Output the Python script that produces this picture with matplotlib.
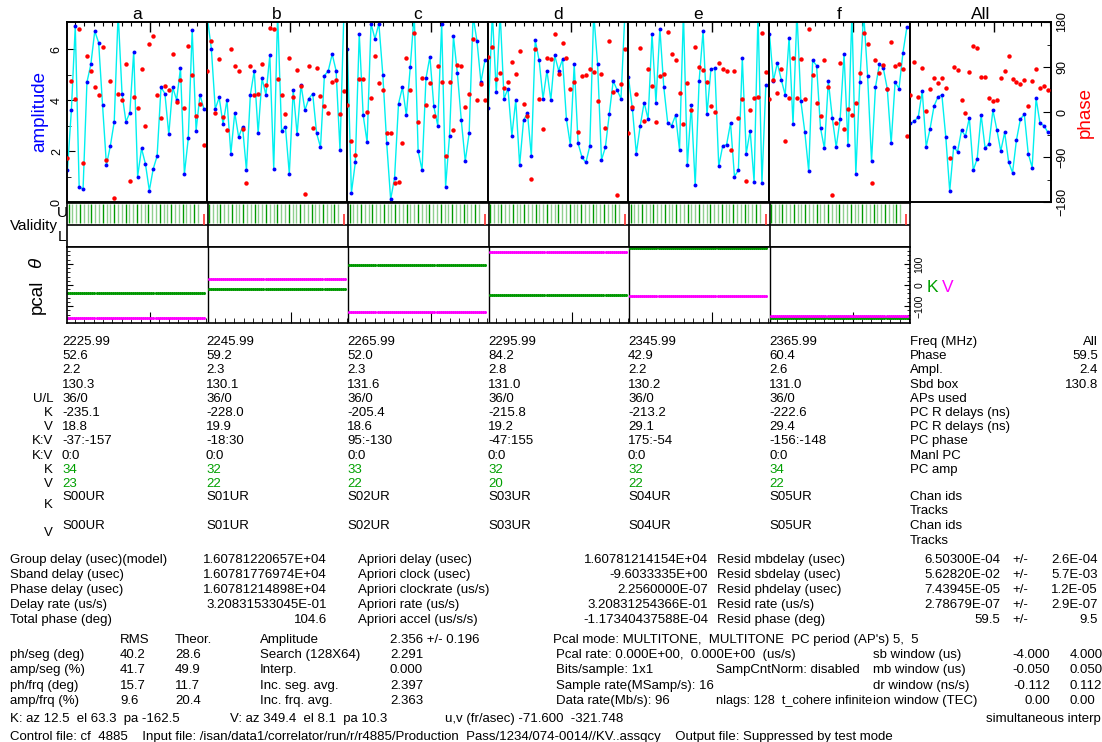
import matplotlib
matplotlib.use('Agg')
import matplotlib.pyplot as plt
import numpy as np

plt.rcParams['font.family'] = ['Liberation Sans', 'DejaVu Sans']

# ---------------- data ----------------
titles = ['a', 'b', 'c', 'd', 'e', 'f', 'All']

amp_a = [1.25, 3.6, 6.9, 0.6, 0.5, 4.7, 5.4, 6.7, 6.25, 3.8, 1.45, 2.2, 3.15, 7.4, 4.25, 3.15, 3.5, 5.9,
         1.0, 2.1, 1.5, 0.45, 1.3, 1.8, 4.5, 4.25, 2.65, 4.5, 4.0, 5.25, 1.1, 2.5, 6.75, 2.8, 4.2, 3.65]
ph_a = [-91, 62, 27, 167, -102, 112, 83, 50, 35, 130, -95, 63, -171, 36, 25, 97, -137, 30,
        9, 86, -28, 137, 153, 35, -11, 52, 44, 116, 20, 64, 9, 133, 75, -7, 16, -65]
amp_b = [7.2, 6.0, 3.65, 4.1, 3.05, 4.0, 1.9, 3.5, 2.55, 2.95, 1.25, 4.2, 5.15, 2.7, 4.85, 4.2, 5.75, 1.3,
         7.4, 2.8, 2.95, 1.1, 4.4, 2.65, 4.6, 3.6, 4.05, 4.25, 2.7, 2.15, 4.95, 5.15, 5.8, 5.15, 2.05, 7.4]
ph_b = [83, 143, -1, 107, -9, -35, 127, 93, 83, -34, -142, 93, 34, 37, 96, 55, 169, 167,
        67, 35, -4, 109, 31, 85, 53, -163, 93, -31, 89, 33, 13, -1, 60, 64, -4, 43]
amp_c = [6.0, 0.35, 1.55, 6.6, 3.4, 2.35, 7.0, 6.4, 7.0, 5.0, 2.3, 0.1, 0.95, 3.85, 4.5, 3.4, 5.3, 7.4,
         2.0, 1.25, 4.85, 5.7, 3.75, 3.0, 7.0, 0.6, 2.6, 6.5, 5.05, 3.2, 1.6, 2.7, 7.3, 6.3, 4.7, 5.55]
ph_c = [15, -58, -85, 67, 66, 0, 29, 113, 59, 44, -41, -41, -141, -140, -61, 109, 45, 159,
        -19, 69, 15, 59, -7, 92, 61, -88, 61, -35, 94, 93, 11, 37, 147, 24, 57, 24]
amp_d = [3.7, 7.4, 4.3, 7.4, 4.05, 4.45, 2.6, 4.0, 1.45, 3.2, 3.5, 1.8, 6.35, 5.55, 4.05, 5.15, 4.0, 5.75,
         5.15, 5.6, 3.25, 2.25, 5.4, 2.3, 1.75, 1.55, 2.2, 7.4, 5.4, 1.65, 2.15, 3.45, 4.75, 4.4, 4.05, 7.4]
ph_d = [111, 131, 67, 78, 49, 60, 100, 77, 123, 17, -7, -133, 126, 26, -34, 109, 107, 156,
        76, 139, 109, 47, 60, -39, 72, 74, 86, 80, 23, 76, -31, 143, 41, -165, 57, 127]
amp_e = [4.9, 3.65, 1.9, 3.0, 3.9, 3.25, 6.6, 3.9, 6.8, 4.5, 3.1, 3.0, 3.4, 2.05, 7.4, 1.45, 3.8, 0.65,
         4.75, 6.7, 3.45, 5.2, 5.25, 1.4, 2.2, 2.25, 3.1, 1.0, 1.25, 5.65, 1.9, 2.8, 0.8, 7.4, 0.75, 4.6]
ph_e = [-41, 11, 37, 129, -17, 86, 53, -19, 73, 77, 161, 117, 105, 39, -23, 59, 4, 131,
        91, 85, 61, 12, 0, 99, 87, 83, -75, 83, -11, 27, -137, 4, 29, 31, 159, 80]
amp_f = [6.6, 4.75, 5.45, 4.8, 4.2, 6.45, 3.05, 7.4, 3.95, 2.75, 1.2, 5.55, 5.35, 2.9, 2.1, 4.75, 3.3, 2.15,
         3.25, 5.8, 2.25, 7.4, 1.1, 4.7, 7.4, 4.95, 1.6, 4.5, 5.4, 5.25, 4.45, 2.3, 4.7, 4.45, 5.85, 6.85]
ph_f = [27, 65, 39, 87, -57, 29, 109, 29, 107, 27, 166, 75, 18, -7, 105, 51, -165, -21,
        99, -33, 7, -5, 19, 78, 159, 137, -142, 105, 79, 95, 47, 141, 92, 97, 86, -48]
amp_all = [3.08, 3.16, 3.35, 4.35, 2.17, 2.88, 3.76, 4.12, 4.2, 2.54, 0.43, 2.16, 1.97, 2.81, 2.59, 3.3, 1.25, 1.7,
           3.42, 2.13, 2.27, 3.6, 2.84, 2.0, 2.73, 1.58, 1.15, 2.43, 3.25, 3.44, 1.9, 1.35, 4.07, 3.08, 3.0, 2.73]
ph_all = [35, 101, 30, 88, 2, 46, 69, 59, 69, 49, -91, 91, 85, 25, -1, 81, 132, 129,
          71, 71, 29, 22, 25, 69, 82, 113, 67, 60, 56, 64, 12, 62, 86, 48, 53, 45]

pc_K = [-37, -18, 95, -47, 175, -156]
pc_V = [-157, 30, -130, 155, -54, -148]

freqs = ['2225.99', '2245.99', '2265.99', '2295.99', '2345.99', '2365.99']
ch_phase = ['52.6', '59.2', '52.0', '84.2', '42.9', '60.4']
ch_ampl = ['2.2', '2.3', '2.3', '2.8', '2.2', '2.6']
ch_sbd = ['130.3', '130.1', '131.6', '131.0', '130.2', '131.0']
ch_aps = ['36/0', '36/0', '36/0', '36/0', '36/0', '36/0']
pcr_K = ['-235.1', '-228.0', '-205.4', '-215.8', '-213.2', '-222.6']
pcr_V = ['18.8', '19.9', '18.6', '19.2', '29.1', '29.4']
pc_phase = ['-37:-157', '-18:30', '95:-130', '-47:155', '175:-54', '-156:-148']
manl_pc = ['0:0', '0:0', '0:0', '0:0', '0:0', '0:0']
pcamp_K = ['34', '32', '33', '32', '32', '34']
pcamp_V = ['23', '22', '22', '20', '22', '22']
chan_ids = ['S00UR', 'S01UR', 'S02UR', 'S03UR', 'S04UR', 'S05UR']
row_labels = ['', '', '', '', 'U/L', 'K', 'V', 'K:V', 'K:V', 'K', 'V']
right_labels = ['Freq (MHz)', 'Phase', 'Ampl.', 'Sbd box', 'APs used', 'PC R delays (ns)',
                'PC R delays (ns)', 'PC phase', 'Manl PC', 'PC amp']
right_values = ['All', '59.5', '2.4', '130.8']

blk1_lab = ['Group delay (usec)(model)', 'Sband delay (usec)', 'Phase delay (usec)', 'Delay rate (us/s)',
            'Total phase (deg)']
blk1_val = ['1.60781220657E+04', '1.60781776974E+04', '1.60781214898E+04', '3.20831533045E-01', '104.6']
blk2_lab = ['Apriori delay (usec)', 'Apriori clock (usec)', 'Apriori clockrate (us/s)', 'Apriori rate (us/s)',
            'Apriori accel (us/s/s)']
blk2_val = ['1.60781214154E+04', '-9.6033335E+00', '2.2560000E-07', '3.20831254366E-01', '-1.17340437588E-04']
blk3_lab = ['Resid mbdelay (usec)', 'Resid sbdelay (usec)', 'Resid phdelay (usec)', 'Resid rate (us/s)',
            'Resid phase (deg)']
blk3_val = ['6.50300E-04', '5.62820E-02', '7.43945E-05', '2.78679E-07', '59.5']
blk3_err = ['2.6E-04', '5.7E-03', '1.2E-05', '2.9E-07', '9.5']

rms_lab = ['ph/seg (deg)', 'amp/seg (%)', 'ph/frq (deg)', 'amp/frq (%)']
rms_val = ['40.2', '41.7', '15.7', '9.6']
theor_val = ['28.6', '49.9', '11.7', '20.4']
amp_lab = ['Amplitude', 'Search (128X64)', 'Interp.', 'Inc. seg. avg.', 'Inc. frq. avg.']
amp_val = ['2.356 +/- 0.196', '2.291', '0.000', '2.397', '2.363']
win_lab = ['sb window (us)', 'mb window (us)', 'dr window (ns/s)', 'ion window (TEC)']
win_lo = ['-4.000', '-0.050', '-0.112', '0.00']
win_hi = ['4.000', '0.050', '0.112', '0.00']

# ---------------- figure ----------------
W, H = 1102, 742
fig = plt.figure(figsize=(W / 100, H / 100), dpi=100)
FS = 9.5


def rect(x0, y0, x1, y1):
    return [x0 / W, 1 - y1 / H, (x1 - x0) / W, (y1 - y0) / H]


def ftxt(x, y, s, **kw):
    kw.setdefault('fontsize', FS)
    kw.setdefault('va', 'center')
    fig.text(x / W, 1 - y / H, s, **kw)


edges = [67, 207, 347, 488, 628, 769, 910, 1051]
amps = [amp_a, amp_b, amp_c, amp_d, amp_e, amp_f, amp_all]
phs = [ph_a, ph_b, ph_c, ph_d, ph_e, ph_f, ph_all]

XMIN, XMAX = -0.12, 35.8
upp = (XMAX - XMIN) / 140.0
major_top = XMIN + 83 * upp
minor_top = [major_top + k * 9.4 * upp for k in range(-10, 8)]
minor_top = [m for m in minor_top if XMIN < m < XMAX]

for k in range(7):
    ax = fig.add_axes(rect(edges[k], 22, edges[k + 1], 202))
    x = np.arange(len(amps[k]))
    ax.plot(x, amps[k], '-', color='#00f0f0', lw=1.0, zorder=2)
    ax.plot(x, amps[k], 'o', color='#0000ff', ms=2.8, mew=0, zorder=3)
    ax.set_xlim(XMIN, XMAX)
    ax.set_ylim(0, 7.06)
    tw = ax.twinx()
    tw.plot(x, phs[k], 'o', color='#ff0000', ms=3.2, mew=0, zorder=4)
    tw.set_ylim(-180, 180)
    for a in (ax, tw):
        for s in a.spines.values():
            s.set_linewidth(1.2)
    ax.xaxis.set_ticks_position('top')
    ax.set_xticks([major_top])
    ax.set_xticks(minor_top, minor=True)
    ax.tick_params(axis='x', which='both', direction='in', top=True, bottom=False,
                   labeltop=False, labelbottom=False)
    ax.tick_params(axis='x', which='major', length=7, width=1)
    ax.tick_params(axis='x', which='minor', length=3, width=0.8)
    ax.set_title(titles[k], fontsize=12.5, pad=2, y=1.0)
    if k == 0:
        ax.set_yticks([0, 2, 4, 6])
        ax.set_yticks([1, 3, 5], minor=True)
        ax.set_yticklabels(['0', '2', '4', '6'], rotation=90, va='center', fontsize=9)
        ax.tick_params(axis='y', which='both', direction='in', left=True, right=False, pad=3)
        ax.tick_params(axis='y', which='major', length=6)
        ax.tick_params(axis='y', which='minor', length=3)
    else:
        ax.set_yticks([])
    if k == 6:
        tw.set_yticks([-180, -90, 0, 90, 180])
        tw.set_yticks([-135, -45, 45, 135], minor=True)
        tw.set_yticklabels(['\u2212180', '\u221290', '0', '90', '180'], rotation=90, va='center', fontsize=9)
        tw.tick_params(axis='y', which='both', direction='in', right=True, left=False, pad=4)
        tw.tick_params(axis='y', which='major', length=6)
        tw.tick_params(axis='y', which='minor', length=3)
    else:
        tw.set_yticks([])

ftxt(40, 112, 'amplitude', color='#0000ff', fontsize=13.5, rotation=90, ha='center')
ftxt(1085, 112, 'phase', color='#ff0000', fontsize=13.5, rotation=90, ha='center')

# ---------------- validity strip ----------------
va_ = fig.add_axes(rect(67, 203, 910, 247))
va_.set_xlim(0, 6)
va_.set_ylim(0, 2)
va_.set_xticks([])
va_.set_yticks([])
for s in va_.spines.values():
    s.set_linewidth(1.2)
va_.axhline(1, color='black', lw=1.2)
for c in range(1, 6):
    va_.axvline(c, color='black', lw=1.2)
for c in range(6):
    for i in range(35):
        xx = c + (1.5 + i * 3.8) / 140.5
        col = '#009900' if i % 3 == 0 else '#8fd08f'
        va_.vlines(xx, 1.08, 1.94, color=col, lw=1.0)
    va_.vlines(c + 136.5 / 140.5, 1.02, 1.5, color='#ff3030', lw=1.2)

ftxt(58, 226, 'Validity', fontsize=11, ha='right')
ftxt(62, 213, 'U', fontsize=11, ha='center')
ftxt(62, 237, 'L', fontsize=11, ha='center')

# ---------------- pcal strip ----------------
pa = fig.add_axes(rect(67, 247, 910, 323))
pa.set_xlim(0, 6)
pa.set_ylim(-180, 180)
for s in pa.spines.values():
    s.set_linewidth(1.2)
for c in range(1, 6):
    pa.axvline(c, color='black', lw=1.0)
NP = 68
for c in range(6):
    xs = c + (np.arange(NP) + 0.5) / NP * 0.985
    pa.plot(xs, np.full(NP, pc_K[c]), '-o', color='#009900', ms=2.2, mew=0, lw=1.0)
    pa.plot(xs, np.full(NP, pc_V[c]), '-o', color='#ff00ff', ms=2.2, mew=0, lw=1.0)
pa.set_yticks([-100, 0, 100])
pa.set_yticks(np.arange(-160, 180, 20), minor=True)
pa.set_yticklabels(['\u2212100', '0', '100'], rotation=90, va='center', fontsize=7.5)
pa.tick_params(axis='y', which='both', direction='in', left=True, right=True,
               labelleft=False, labelright=True, pad=3)
pa.tick_params(axis='y', which='major', length=4)
pa.tick_params(axis='y', which='minor', length=2)
bmaj = [c + 83 / 140.5 for c in range(6)]
bmin = []
for c in range(6):
    for kk in range(-9, 7):
        v = c + (83 + kk * 9.4) / 140.5
        if c < v < c + 1:
            bmin.append(v)
pa.set_xticks(bmaj)
pa.set_xticks(bmin, minor=True)
pa.tick_params(axis='x', which='both', direction='in', bottom=True, top=False,
               labelbottom=False)
pa.tick_params(axis='x', which='major', length=8)
pa.tick_params(axis='x', which='minor', length=3.5)

ftxt(37, 297, 'pcal', fontsize=13.5, rotation=90, ha='center')
ftxt(37, 263, '\u03b8', fontsize=13.5, rotation=90, ha='center', style='italic')
ftxt(932, 287, 'K', color='#00a000', fontsize=12.5, ha='center')
ftxt(948, 287, 'V', color='#ff00ff', fontsize=12.5, ha='center')

# ---------------- channel table ----------------
col_x = [62, 206, 347, 488, 628, 769]
row_y = [342 + 14.2 * i for i in range(11)]
rows = [freqs, ch_phase, ch_ampl, ch_sbd, ch_aps, pcr_K, pcr_V, pc_phase, manl_pc, pcamp_K, pcamp_V]
for r, (vals, yy) in enumerate(zip(rows, row_y)):
    colr = '#00a000' if r >= 9 else 'black'
    for c in range(6):
        ftxt(col_x[c], yy, vals[c], color=colr)
    if row_labels[r]:
        ftxt(53, yy, row_labels[r], ha='right')
for i, lab in enumerate(right_labels):
    ftxt(910, row_y[i], lab)
for i, v in enumerate(right_values):
    ftxt(1098, row_y[i], v, ha='right')
for c in range(6):
    ftxt(col_x[c], 497, chan_ids[c])
    ftxt(col_x[c], 526, chan_ids[c])
ftxt(53, 505, 'K', ha='right')
ftxt(53, 533, 'V', ha='right')
ftxt(910, 497, 'Chan ids')
ftxt(910, 511.5, 'Tracks')
ftxt(910, 526, 'Chan ids')
ftxt(910, 540.5, 'Tracks')

# ---------------- fit summary ----------------
by = [560 + 15 * i for i in range(5)]
for i, yy in enumerate(by):
    ftxt(10, yy, blk1_lab[i])
    ftxt(327, yy, blk1_val[i], ha='right')
    ftxt(358, yy, blk2_lab[i])
    ftxt(708, yy, blk2_val[i], ha='right')
    ftxt(717, yy, blk3_lab[i])
    ftxt(1000, yy, blk3_val[i], ha='right')
    ftxt(1012, yy, '+/-')
    ftxt(1098, yy, blk3_err[i], ha='right')

ry = [640, 655.2, 670.4, 685.6, 700.8]
ftxt(120, ry[0], 'RMS')
ftxt(175, ry[0], 'Theor.')
for i in range(4):
    ftxt(10, ry[i + 1], rms_lab[i])
    ftxt(120, ry[i + 1], rms_val[i])
    ftxt(175, ry[i + 1], theor_val[i])
for i in range(5):
    ftxt(260, ry[i], amp_lab[i])
    ftxt(390, ry[i], amp_val[i])
ftxt(553, ry[0], "Pcal mode: MULTITONE,  MULTITONE  PC period (AP's) 5,  5")
ftxt(556, ry[1], 'Pcal rate: 0.000E+00,  0.000E+00  (us/s)')
ftxt(556, ry[2], 'Bits/sample: 1x1')
ftxt(716, ry[2], 'SampCntNorm: disabled')
ftxt(556, ry[3], 'Sample rate(MSamp/s): 16')
ftxt(556, ry[4], 'Data rate(Mb/s): 96')
ftxt(716, ry[4], 'nlags: 128  t_cohere infinite', fontsize=9.2)
for i in range(4):
    ftxt(873, ry[i + 1], win_lab[i])
    ftxt(1050, ry[i + 1], win_lo[i], ha='right')
    ftxt(1070, ry[i + 1], win_hi[i])

ftxt(10, 719, 'K: az 12.5  el 63.3  pa -162.5')
ftxt(230, 719, 'V: az 349.4  el 8.1  pa 10.3')
ftxt(445, 719, 'u,v (fr/asec) -71.600  -321.748')
ftxt(986, 719, 'simultaneous interp')
ftxt(10, 737, 'Control file: cf_4885    Input file: /isan/data1/correlator/run/r/r4885/Production_Pass/1234/074-0014//KV..assqcy    Output file: Suppressed by test mode')

fig.savefig('out.png', dpi=100)
